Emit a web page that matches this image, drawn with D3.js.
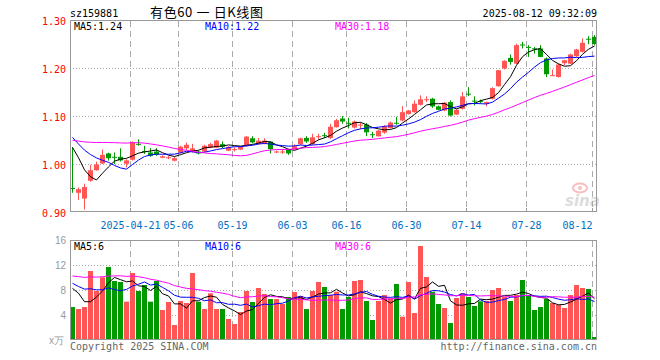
<!DOCTYPE html>
<html><head><meta charset="utf-8">
<script src="https://cdn.jsdelivr.net/npm/d3@7"></script>
<style>body{margin:0;background:#fff;}svg{display:block}</style>
</head><body><svg id="c" width="660" height="360"></svg>
<script>
// ---------- data ----------
const dates = ["04-07","04-08","04-09","04-10","04-11","04-14","04-15","04-16","04-17","04-18","04-21","04-22","04-23","04-24","04-25","04-28","04-29","04-30",
"05-06","05-07","05-08","05-09","05-12","05-13","05-14","05-15","05-16","05-19","05-20","05-21","05-22","05-23","05-26","05-27","05-28","05-29","05-30",
"06-03","06-04","06-05","06-06","06-09","06-10","06-11","06-12","06-13","06-16","06-17","06-18","06-19","06-20","06-23","06-24","06-25","06-26","06-27","06-30",
"07-01","07-02","07-03","07-04","07-07","07-08","07-09","07-10","07-11","07-14","07-15","07-16","07-17","07-18","07-21","07-22","07-23","07-24","07-25","07-28","07-29","07-30","07-31",
"08-01","08-04","08-05","08-06","08-07","08-08","08-11","08-12"];
const open = [0.950,0.940,0.928,0.965,0.987,1.001,1.022,1.015,1.015,1.0005,
1.009,1.042,1.027,1.024,1.026,1.013,1.012,1.0068,1.024,1.0326,
1.026,1.026,1.026,1.0347,1.034,1.0414,1.0277,1.030,1.030,1.038,
1.0535,1.0418,1.042,1.0466,1.025,1.025,1.0297,1.031,1.041,1.0543,
1.0418,1.056,1.060,1.0543,1.0766,1.0947,1.086,1.076,1.081,1.0822,
1.062,1.0577,1.0655,1.0749,1.086,1.0906,1.1042,1.108,1.1234,1.133,
1.136,1.120,1.1115,1.129,1.103,1.115,1.1465,1.132,1.131,1.126,
1.136,1.162,1.199,1.221,1.209,1.249,1.244,1.241,1.2407,1.2198,
1.184,1.1813,1.210,1.209,1.2246,1.2336,1.261,1.265];
const high = [1.035,0.951,0.959,0.998,1.005,1.030,1.0236,1.024,1.0326,1.010,
1.047,1.0514,1.038,1.033,1.033,1.018,1.017,1.0146,1.038,1.0445,
1.042,1.028,1.040,1.044,1.050,1.047,1.037,1.035,1.037,1.058,
1.058,1.054,1.0535,1.047,1.028,1.031,1.031,1.041,1.055,1.058,
1.063,1.063,1.065,1.0837,1.094,1.0996,1.0963,1.0906,1.087,1.0853,
1.067,1.0707,1.081,1.0885,1.0984,1.1205,1.1126,1.1325,1.143,1.141,
1.138,1.1215,1.129,1.1325,1.1143,1.150,1.1603,1.141,1.134,1.130,
1.160,1.196,1.2162,1.228,1.2508,1.2545,1.2476,1.244,1.2476,1.222,
1.1968,1.209,1.217,1.2298,1.240,1.2617,1.2665,1.2686];
const low = [0.940,0.925,0.905,0.963,0.986,1.000,1.007,1.000,1.0053,0.993,
1.007,1.038,1.021,1.015,1.017,1.012,1.010,1.0055,1.022,1.029,
1.024,1.020,1.025,1.033,1.033,1.033,1.027,1.026,1.029,1.036,
1.043,1.040,1.041,1.022,1.023,1.021,1.019,1.030,1.040,1.044,
1.040,1.051,1.054,1.052,1.076,1.084,1.074,1.074,1.073,1.058,
1.054,1.057,1.063,1.074,1.0816,1.089,1.103,1.1067,1.122,1.129,
1.117,1.112,1.110,1.099,1.102,1.1136,1.1415,1.122,1.126,1.120,
1.1345,1.161,1.197,1.207,1.208,1.2407,1.223,1.230,1.2225,1.181,
1.1834,1.180,1.2058,1.208,1.2225,1.2324,1.2497,1.2476];
const close = [0.948,0.9475,0.952,0.987,0.999,1.019,1.012,1.013,1.0075,1.0075,
1.045,1.040,1.026,1.017,1.019,1.016,1.014,1.0121,1.036,1.040,
1.0326,1.022,1.038,1.0414,1.0487,1.036,1.0347,1.031,1.036,1.057,
1.045,1.0487,1.0487,1.031,1.026,1.026,1.022,1.037,1.0535,1.047,
1.0556,1.058,1.059,1.0776,1.0912,1.0885,1.084,1.0885,1.082,1.066,
1.060,1.0696,1.078,1.0864,1.085,1.108,1.1115,1.1256,1.1346,1.135,
1.120,1.113,1.1277,1.101,1.113,1.1408,1.145,1.131,1.130,1.129,
1.158,1.1953,1.2148,1.2127,1.2476,1.2476,1.243,1.2407,1.2231,1.187,
1.185,1.2072,1.2162,1.2282,1.2386,1.2525,1.2596,1.2497];
const volume = [5.28,4.96,5.28,11.04,7.84,10.03,11.68,9.44,9.28,6.13,
10.72,7.84,8.8,6.13,9.44,4.8,6.08,2.4,6.24,5.92,
10.72,6.13,4.96,7.47,4.96,4.96,3.36,2.56,4.48,7.84,
6.08,8.32,7.36,6.56,6.56,5.76,6.88,7.68,7.04,4.96,
7.84,9.28,8.48,7.2,7.73,4.96,6.88,9.44,9.6,6.24,
3.2,6.24,7.2,6.67,8.96,3.73,9.28,4.32,15.04,10.08,
7.73,5.76,5.12,2.72,6.72,7.47,6.88,5.44,6.19,6.24,
8.0,8.32,6.93,6.24,7.2,9.6,7.2,4.8,5.28,6.56,
5.92,5.6,5.12,7.2,8.8,8.32,8.16,0.48];
// sessions before the first visible day (needed for the moving averages)
const prevCloses = [1.000,1.005,1.010,1.012,1.015,1.018,1.020,1.022,1.020,1.018,
1.040,1.055,1.068,1.075,1.082,1.090,1.095,1.098,1.092,1.095,
1.085,1.080,1.078,1.070,1.068,1.055,1.078,1.059,1.033];
const prevVolumes = [8,9,8.5,9,8,8.5,9,8.5,9,8.5,
12,13,14,13.5,12.5,13,14,13,12.5,13,
10,9.5,10.5,9.5,9.9,8.8,12.1,11.0,4.1];
const tickDates = ["04-21","05-06","05-19","06-03","06-16","06-30","07-14","07-28","08-12"];
const tickLabels = ["2025-04-21","05-06","05-19","06-03","06-16","06-30","07-14","07-28","08-12"];
const priceTicks = [1.30,1.20,1.10,1.00,0.90];
const volTicks = [16,12,8,4];
const symbol = "sz159881", title = "有色60 一 日K线图", stamp = "2025-08-12 09:32:09";
const maPeriods = [5,10,30];

// ---------- layout ----------
const L = 70, R = 597, PT = 20, PB = 212, VT = 240, VB = 340;
const n = close.length;
const RED = "#ff5555", GREEN = "#009900", MONO = "'DejaVu Sans Mono', monospace";
const maColors = ["#000000", "#0000ff", "#ff00ff"];

const x = d3.scaleLinear().domain([0, n - 1]).range([72.5, 72.5 + 6 * (n - 1)]);
const y = d3.scaleLinear().domain([0.90, 1.30]).range([PB, PT]);
const yv = d3.scaleLinear().domain([0, 16]).range([VB, VT]);

const svg = d3.select("#c");

function movAvg(prev, vals, k) {
  const all = prev.concat(vals), off = prev.length;
  return vals.map((_, i) => d3.mean(all.slice(off + i - k + 1, off + i + 1)));
}
const pMA = maPeriods.map(k => movAvg(prevCloses, close, k));
const vMA = maPeriods.map(k => movAvg(prevVolumes, volume, k));
const f2 = v => (Math.floor(v * 100 + 1e-6) / 100).toFixed(2);
const f0 = v => String(Math.floor(v + 1e-6));

const defs = svg.append("defs");
defs.append("clipPath").attr("id", "cp").append("rect").attr("x", L).attr("y", PT).attr("width", R - L).attr("height", PB - PT);
defs.append("clipPath").attr("id", "cv").append("rect").attr("x", L).attr("y", VT).attr("width", R - L).attr("height", VB - VT);

// watermark
const wm = svg.append("g").attr("opacity", 0.5);
wm.append("ellipse").attr("cx", 580).attr("cy", 188).attr("rx", 7).attr("ry", 4.5).attr("fill", "none").attr("stroke", "#f08080").attr("stroke-width", 2);
wm.append("circle").attr("cx", 580).attr("cy", 188).attr("r", 2).attr("fill", "#f08080");
wm.append("text").attr("x", 565).attr("y", 206).attr("font-family", "'DejaVu Sans', sans-serif").attr("font-weight", "bold").attr("font-style", "italic").attr("font-size", 15).attr("fill", "#bbbbbb").text("sina");

// ---------- grids ----------
const tickIdx = tickDates.map(d => dates.indexOf(d));
function vgrid(top, bot) {
  svg.append("g").selectAll("line").data(tickIdx).join("line")
    .attr("x1", d => x(d) - 2).attr("x2", d => x(d) - 2)
    .attr("y1", top).attr("y2", bot)
    .attr("stroke", "#aaaaaa").attr("stroke-dasharray", "6,4");
}
vgrid(PT + 1, PB); vgrid(VT + 1, VB);
svg.append("g").selectAll("line").data(priceTicks.slice(1, -1)).join("line")
  .attr("x1", L).attr("x2", R).attr("y1", d => Math.round(y(d)) + 0.5).attr("y2", d => Math.round(y(d)) + 0.5)
  .attr("stroke", "#aaaaaa").attr("stroke-dasharray", "1,2");
svg.append("g").selectAll("line").data(volTicks.slice(1)).join("line")
  .attr("x1", L).attr("x2", R).attr("y1", d => Math.round(yv(d)) + 0.5).attr("y2", d => Math.round(yv(d)) + 0.5)
  .attr("stroke", "#aaaaaa").attr("stroke-dasharray", "1,2");

// ---------- candles ----------
const idx = d3.range(n);
const up = i => close[i] >= open[i];
const cg = svg.append("g").attr("clip-path", "url(#cp)");
cg.selectAll("line").data(idx).join("line")
  .attr("x1", i => x(i)).attr("x2", i => x(i))
  .attr("y1", i => y(high[i])).attr("y2", i => y(low[i]))
  .attr("stroke", i => up(i) ? RED : GREEN);
cg.selectAll("rect").data(idx).join("rect")
  .attr("x", i => x(i) - 2.5).attr("width", 5)
  .attr("y", i => y(Math.max(open[i], close[i])))
  .attr("height", i => Math.max(1, Math.abs(y(open[i]) - y(close[i]))))
  .attr("fill", i => up(i) ? RED : GREEN);

const lineP = d3.line().x((d, i) => x(i)).y(d => y(d));
pMA.forEach((m, k) => cg.append("path").attr("d", lineP(m)).attr("fill", "none").attr("stroke", maColors[k]).attr("stroke-width", 1));

// ---------- volume ----------
const vg = svg.append("g").attr("clip-path", "url(#cv)");
vg.selectAll("rect").data(idx).join("rect")
  .attr("x", i => x(i) - 2.5).attr("width", 5)
  .attr("y", i => yv(volume[i])).attr("height", i => yv(0) - yv(volume[i]))
  .attr("fill", i => up(i) ? RED : GREEN);
const lineV = d3.line().x((d, i) => x(i)).y(d => yv(d));
vMA.forEach((m, k) => vg.append("path").attr("d", lineV(m)).attr("fill", "none").attr("stroke", maColors[k]).attr("stroke-width", 1));

// ---------- frames ----------
[[PT, PB], [VT, VB]].forEach(([t, b]) => {
  svg.append("rect").attr("x", L + 0.5).attr("y", t + 0.5).attr("width", R - L - 1).attr("height", b - t - 1)
    .attr("fill", "none").attr("stroke", "#999999");
});
svg.append("g").selectAll("line").data(tickIdx).join("line")
  .attr("x1", d => x(d) - 2).attr("x2", d => x(d) - 2).attr("y1", PB - 4).attr("y2", PB)
  .attr("stroke", "#999999");

// ---------- texts ----------
svg.append("g").selectAll("text").data(priceTicks).join("text")
  .attr("x", 66).attr("y", d => y(d) + 5).attr("text-anchor", "end")
  .attr("font-family", MONO).attr("font-size", 10).attr("fill", "#ff0000").text(d => d.toFixed(2));
svg.append("g").selectAll("text").data(volTicks).join("text")
  .attr("x", 66).attr("y", d => yv(d) + 4).attr("text-anchor", "end")
  .attr("font-family", "'Liberation Sans', Arial, sans-serif").attr("font-size", 10).attr("fill", "#999999").text(d => d);
svg.append("text").attr("x", 64).attr("y", VB + 4).attr("text-anchor", "end")
  .attr("font-family", "'Liberation Sans', sans-serif").attr("font-size", 10).attr("fill", "#999999").text("x万");

svg.append("g").selectAll("text").data(tickIdx).join("text")
  .attr("x", d => x(d) - 2)
  .attr("text-anchor", (d, i) => i === tickIdx.length - 1 ? "end" : "middle")
  .attr("y", 229).attr("font-family", MONO).attr("font-size", 10).attr("fill", "#0070c0")
  .text((d, i) => tickLabels[i]);

svg.append("text").attr("x", L).attr("y", 16.5).attr("font-family", MONO).attr("font-size", 10).attr("fill", "#000").text(symbol);
svg.append("text").attr("x", 150).attr("y", 17).attr("font-family", "'Noto Sans CJK SC', sans-serif").attr("font-size", 13)
  .attr("textLength", 113).attr("lengthAdjust", "spacing").attr("fill", "#000").text(title);
svg.append("text").attr("x", R).attr("y", 16.5).attr("text-anchor", "end").attr("font-family", MONO).attr("font-size", 10).attr("fill", "#000").text(stamp);

const legX = [74, 205, 335];
maPeriods.forEach((k, j) => {
  svg.append("text").attr("x", legX[j]).attr("y", 29.5).attr("font-family", MONO).attr("font-size", 10)
    .attr("fill", maColors[j]).text(`MA${k}:${f2(pMA[j][n - 1])}`);
  svg.append("text").attr("x", legX[j]).attr("y", 249.5).attr("font-family", MONO).attr("font-size", 10)
    .attr("fill", maColors[j]).text(`MA${k}:${f0(vMA[j][n - 1])}`);
});

svg.append("text").attr("x", L).attr("y", 350).attr("font-family", MONO).attr("font-size", 10).attr("fill", "#666666").text("Copyright 2025 SINA.COM");
svg.append("text").attr("x", R).attr("y", 350).attr("text-anchor", "end").attr("font-family", MONO).attr("font-size", 10).attr("fill", "#666666").text("http://finance.sina.com.cn");
</script></body></html>
